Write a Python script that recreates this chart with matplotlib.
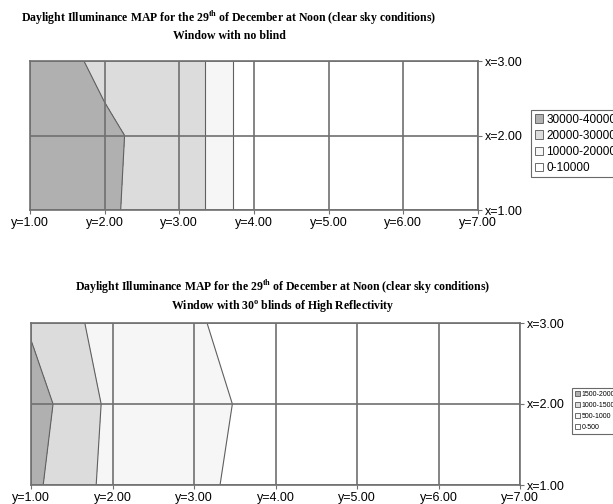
import numpy as np
import matplotlib
matplotlib.use('Agg')
import matplotlib.pyplot as plt
from matplotlib.patches import Patch

plt.rcParams['font.family'] = ['Liberation Sans', 'DejaVu Sans']
plt.rcParams['mathtext.fontset'] = 'custom'
plt.rcParams['mathtext.rm'] = 'Liberation Serif'
plt.rcParams['mathtext.bf'] = 'Liberation Serif:bold'

# grid of measuring points: y along the room, x across
y_pos = [1, 2, 3, 4, 5, 6, 7]
x_pos = [1, 2, 3]
y_labels = ['y=1.00', 'y=2.00', 'y=3.00', 'y=4.00', 'y=5.00', 'y=6.00', 'y=7.00']
x_labels = ['x=1.00', 'x=2.00', 'x=3.00']

# illuminance (lux), window with no blind (rows x=1,2,3)
lux_noblind = [
    [36000, 30300, 28900, 2600, 1900, 1500, 1200],
    [37000, 30400, 28900, 2600, 1900, 1500, 1200],
    [31300, 29500, 28900, 2600, 1900, 1500, 1200],
]
levels_noblind = [0, 10000, 20000, 30000, 40000]
labels_noblind = ['30000-40000', '20000-30000', '10000-20000', '0-10000']

# illuminance (lux), window with 30 deg blinds of high reflectivity
lux_blind = [
    [1615, 846, 600, 287, 250, 220, 200],
    [1729, 882, 620, 365, 260, 225, 205],
    [1439, 774, 540, 290, 250, 220, 200],
]
levels_blind = [0, 500, 1000, 1500, 2000]
labels_blind = ['1500-2000', '1000-1500', '500-1000', '0-500']

fills = ['#ffffff', '#f6f6f6', '#dcdcdc', '#b0b0b0']


def draw_map(ax, z, levels):
    Y, X = np.meshgrid(y_pos, x_pos)
    z = np.array(z, dtype=float)
    ax.contourf(Y, X, z, levels=levels, colors=fills)
    ax.contour(Y, X, z, levels=levels[1:-1], colors='#606060', linewidths=0.8)
    ax.set_xlim(1, 7)
    ax.set_ylim(1, 3)
    ax.set_xticks(y_pos)
    ax.set_xticklabels(y_labels)
    ax.set_yticks(x_pos)
    ax.set_yticklabels(x_labels)
    ax.yaxis.tick_right()
    ax.grid(True, color='#707070', linewidth=1.2)
    ax.set_axisbelow(False)
    for s in ax.spines.values():
        s.set_color('#707070')
        s.set_linewidth(1.2)
    ax.tick_params(length=3, width=0.8, color='#707070', labelsize=9, pad=2)


fig = plt.figure(figsize=(6.13, 5.04), dpi=100)

ax1 = fig.add_axes([30 / 613, 1 - 210 / 504, 448 / 613, 149 / 504])
draw_map(ax1, lux_noblind, levels_noblind)
ax2 = fig.add_axes([31 / 613, 1 - 485 / 504, 489 / 613, 162 / 504])
draw_map(ax2, lux_blind, levels_blind)

tfont = dict(family='Liberation Serif', weight='bold', fontsize=8.5, ha='center', va='center')
fig.text(229 / 613, 1 - 18 / 504,
         r'Daylight Illuminance MAP for the 29$^{\mathbf{th}}$ of December at Noon (clear sky conditions)',
         **tfont)
fig.text(229 / 613, 1 - 36 / 504, 'Window with no blind', **tfont)
fig.text(283 / 613, 1 - 287 / 504,
         r'Daylight Illuminance MAP for the 29$^{\mathbf{th}}$ of December at Noon (clear sky conditions)',
         **tfont)
fig.text(283 / 613, 1 - 307 / 504,
         r'Window with 30$^{\mathbf{o}}$ blinds of High Reflectivity', **tfont)

h1 = [Patch(facecolor=c, edgecolor='#555555', linewidth=0.6) for c in fills[::-1]]
leg1 = fig.legend(h1, labels_noblind, loc='upper left',
                  bbox_to_anchor=(531 / 613, 1 - 110 / 504), fontsize=8.5,
                  frameon=True, fancybox=False, edgecolor='#444444',
                  handlelength=0.7, handleheight=0.7, handletextpad=0.3,
                  labelspacing=0.35, borderpad=0.3, borderaxespad=0)
leg1.get_frame().set_linewidth(0.8)

leg2 = fig.legend(h1, labels_blind, loc='upper left',
                  bbox_to_anchor=(572 / 613, 1 - 388 / 504), fontsize=5,
                  frameon=True, fancybox=False, edgecolor='#444444',
                  handlelength=0.7, handleheight=0.7, handletextpad=0.3,
                  labelspacing=0.6, borderpad=0.4, borderaxespad=0)
leg2.get_frame().set_linewidth(0.8)

fig.savefig('out.png', dpi=100)
